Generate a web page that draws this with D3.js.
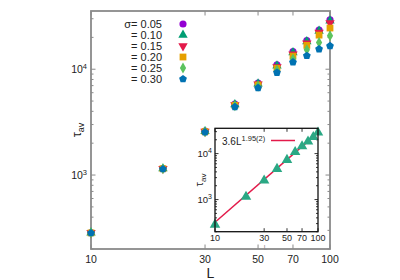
<!DOCTYPE html>
<html><head><meta charset="utf-8">
<script src="https://cdn.jsdelivr.net/npm/d3@7"></script>
<style>body{margin:0;background:#fff}svg{display:block;font-family:"Liberation Sans",Arial,sans-serif}</style>
</head><body><svg id="c" width="400" height="280"></svg>
<script>
// ---- data ----
const L = [10,20,30,40,50,60,70,80,90,100];
const sigmaLabels = ["σ= 0.05","= 0.10","= 0.15","= 0.20","= 0.25","= 0.30"];
const tau005 = [285,1150,2600,4680,7400,11000,14700,18700,23500,29300];
const tau010 = [285,1150,2590,4640,7300,10800,14400,18300,23000,28700];
const tau015 = [285,1150,2580,4600,7200,10500,13900,17600,22200,27300];
const tau020 = [284,1148,2570,4560,7100,10200,13300,16800,21000,24500];
const tau025 = [284,1145,2560,4500,6900,9800,12500,15300,17900,20700];
const tau030 = [283,1140,2540,4400,6650,9300,11650,13400,15500,16600];
const xTickVals = [10,30,50,70,100];
const yMajorVals = [1000,10000];
const fitA = 3.6, fitB = 1.95;
const fitText = "3.6L", fitExp = "1.95(2)";

const series = [tau005,tau010,tau015,tau020,tau025,tau030];
const colors = ["#9400d3","#009e73","#e31a4a","#e69f00","#5cc35e","#0072b2"];

const pentagon = {draw(ctx,size){const r=Math.sqrt(size/2.378);for(let i=0;i<5;i++){const a=-Math.PI/2+i*2*Math.PI/5;const x=r*Math.cos(a),y=r*Math.sin(a);i?ctx.lineTo(x,y):ctx.moveTo(x,y);}ctx.closePath();}};
const triDown = {draw(ctx,size){const s=Math.sqrt(size/(Math.sqrt(3)/4));const h=s*Math.sqrt(3)/2;ctx.moveTo(-s/2,-h/3);ctx.lineTo(s/2,-h/3);ctx.lineTo(0,2*h/3);ctx.closePath();}};
const triUp = {draw(ctx,size){const s=Math.sqrt(size/(Math.sqrt(3)/4));const h=s*Math.sqrt(3)/2;ctx.moveTo(-s/2,h/3);ctx.lineTo(s/2,h/3);ctx.lineTo(0,-2*h/3);ctx.closePath();}};
const shapes = [
  d3.symbol(d3.symbolCircle,40),
  d3.symbol(triUp,38),
  d3.symbol(triDown,38),
  d3.symbol(d3.symbolSquare,46),
  d3.symbol(d3.symbolDiamond,34),
  d3.symbol(pentagon,40)
];

const svg = d3.select("#c");
const yDom = [200,35500];

// ---- main plot ----
const M = {l:91,r:330,t:11,b:249};
const x = d3.scaleLog().domain([10,100]).range([M.l,M.r]);
const y = d3.scaleLog().domain(yDom).range([M.b,M.t]);
const gray = "#8a8a8a";

function minorTicks(sc){
  const out=[];const [a,b]=sc.domain();
  for(let e=2;e<=5;e++)for(let m=1;m<10;m++){const v=m*Math.pow(10,e);if(v>=a&&v<=b)out.push(v);}
  return out;
}
const yMin = minorTicks(y).filter(v=>!yMajorVals.includes(v));

const gm = svg.append("g");
gm.selectAll("line.ymn").data(yMin).join("line").attr("x1",M.l).attr("x2",M.l+2.5).attr("y1",d=>y(d)).attr("y2",d=>y(d)).attr("stroke",gray).attr("stroke-width",1);
gm.selectAll("line.ymnr").data(yMin).join("line").attr("x1",M.r).attr("x2",M.r-2.5).attr("y1",d=>y(d)).attr("y2",d=>y(d)).attr("stroke",gray).attr("stroke-width",1);
gm.selectAll("line.ymj").data(yMajorVals).join("line").attr("x1",M.l).attr("x2",M.l+4.5).attr("y1",d=>y(d)).attr("y2",d=>y(d)).attr("stroke",gray).attr("stroke-width",1);
gm.selectAll("line.ymjr").data(yMajorVals).join("line").attr("x1",M.r).attr("x2",M.r-4.5).attr("y1",d=>y(d)).attr("y2",d=>y(d)).attr("stroke",gray).attr("stroke-width",1);
gm.selectAll("line.xb").data(xTickVals).join("line").attr("x1",d=>x(d)).attr("x2",d=>x(d)).attr("y1",M.b).attr("y2",M.b-4.5).attr("stroke",gray).attr("stroke-width",1);
gm.selectAll("line.xt").data(xTickVals).join("line").attr("x1",d=>x(d)).attr("x2",d=>x(d)).attr("y1",M.t).attr("y2",M.t+4.5).attr("stroke",gray).attr("stroke-width",1);
gm.append("rect").attr("x",M.l).attr("y",M.t).attr("width",M.r-M.l).attr("height",M.b-M.t).attr("fill","none").attr("stroke",gray).attr("stroke-width",1.8);

gm.selectAll("text.xl").data(xTickVals).join("text").attr("x",d=>x(d)).attr("y",M.b+14).attr("text-anchor","middle").attr("font-size",10.5).attr("fill","#222").text(d=>d);
const yl = gm.selectAll("text.yl").data(yMajorVals).join("text").attr("x",M.l-4).attr("y",d=>y(d)+4).attr("text-anchor","end").attr("font-size",10.5).attr("fill","#222");
yl.append("tspan").text("10");
yl.append("tspan").attr("dy",-4).attr("font-size",7.5).text(d=>Math.round(Math.log10(d)));
gm.append("text").attr("x",(M.l+M.r)/2).attr("y",278).attr("text-anchor","middle").attr("font-size",14).attr("fill","#222").text("L");
const ylab = gm.append("text").attr("transform",`translate(81,${(M.t+M.b)/2}) rotate(-90)`).attr("text-anchor","middle").attr("font-size",13).attr("fill","#222");
ylab.append("tspan").text("τ");
ylab.append("tspan").attr("dy",3).attr("font-size",9).text("av");

const leg = gm.append("g");
sigmaLabels.forEach((s,i)=>{
  const yy = 24 + i*11;
  leg.append("text").attr("x",162).attr("y",yy+4).attr("text-anchor","end").attr("font-size",11).attr("fill","#222").text(s);
  leg.append("path").attr("d",shapes[i]()).attr("transform",`translate(183,${yy})`).attr("fill",colors[i]);
});

series.forEach((vals,i)=>{
  gm.append("g").selectAll("path").data(vals).join("path")
    .attr("d",shapes[i]()).attr("transform",(d,j)=>`translate(${x(L[j])},${y(d)})`).attr("fill",colors[i]);
});

// ---- inset ----
const I = {l:215,r:318,t:128.3,b:231.7};
const xi = d3.scaleLog().domain([10,100]).range([I.l,I.r]);
const yi = d3.scaleLog().domain(yDom).range([I.b,I.t]);
const gi = svg.append("g");
gi.append("rect").attr("x",I.l).attr("y",I.t).attr("width",I.r-I.l).attr("height",I.b-I.t).attr("fill","#fff");
gi.selectAll("line.a").data(yMin).join("line").attr("x1",I.l).attr("x2",I.l+2).attr("y1",d=>yi(d)).attr("y2",d=>yi(d)).attr("stroke","#000").attr("stroke-width",0.8);
gi.selectAll("line.b").data(yMin).join("line").attr("x1",I.r).attr("x2",I.r-2).attr("y1",d=>yi(d)).attr("y2",d=>yi(d)).attr("stroke","#000").attr("stroke-width",0.8);
gi.selectAll("line.c").data(yMajorVals).join("line").attr("x1",I.l).attr("x2",I.l+3.5).attr("y1",d=>yi(d)).attr("y2",d=>yi(d)).attr("stroke","#000").attr("stroke-width",0.8);
gi.selectAll("line.d").data(yMajorVals).join("line").attr("x1",I.r).attr("x2",I.r-3.5).attr("y1",d=>yi(d)).attr("y2",d=>yi(d)).attr("stroke","#000").attr("stroke-width",0.8);
gi.selectAll("line.e").data(xTickVals).join("line").attr("x1",d=>xi(d)).attr("x2",d=>xi(d)).attr("y1",I.b).attr("y2",I.b-3.5).attr("stroke","#000").attr("stroke-width",0.8);
gi.selectAll("line.f").data(xTickVals).join("line").attr("x1",d=>xi(d)).attr("x2",d=>xi(d)).attr("y1",I.t).attr("y2",I.t+3.5).attr("stroke","#000").attr("stroke-width",0.8);
gi.selectAll("text.xl").data(xTickVals).join("text").attr("x",d=>xi(d)).attr("y",I.b+9.5).attr("text-anchor","middle").attr("font-size",9).attr("fill","#222").text(d=>d);
const yli = gi.selectAll("text.yl").data(yMajorVals).join("text").attr("x",I.l-3).attr("y",d=>yi(d)+3.5).attr("text-anchor","end").attr("font-size",9.5).attr("fill","#222");
yli.append("tspan").text("10");
yli.append("tspan").attr("dy",-4).attr("font-size",7).text(d=>Math.round(Math.log10(d)));
gi.append("text").attr("x",(I.l+I.r)/2-1).attr("y",249.5).attr("text-anchor","middle").attr("font-size",6.5).attr("fill","#888").text("L");
const ylabi = gi.append("text").attr("transform",`translate(203,${(I.t+I.b)/2}) rotate(-90)`).attr("text-anchor","middle").attr("font-size",11).attr("fill","#222");
ylabi.append("tspan").text("τ");
ylabi.append("tspan").attr("dy",2.5).attr("font-size",8).text("av");
const line = d3.line().x(d=>xi(d)).y(d=>yi(fitA*Math.pow(d,fitB)));
gi.append("path").attr("d",line([L[0],L[L.length-1]])).attr("fill","none").attr("stroke","#e31a4a").attr("stroke-width",1.5);
gi.append("g").selectAll("path").data(tau010).join("path").attr("d",d3.symbol(triUp,48)()).attr("transform",(d,j)=>`translate(${xi(L[j])},${yi(d)})`).attr("fill","#2aa884");
const fl = gi.append("text").attr("x",222).attr("y",145).attr("font-size",10).attr("fill","#222");
fl.append("tspan").text(fitText);
fl.append("tspan").attr("dy",-4.5).attr("font-size",7.5).text(fitExp);
gi.append("line").attr("x1",271).attr("x2",295).attr("y1",140.5).attr("y2",140.5).attr("stroke","#e31a4a").attr("stroke-width",1.5);
gi.append("rect").attr("x",I.l).attr("y",I.t).attr("width",I.r-I.l).attr("height",I.b-I.t).attr("fill","none").attr("stroke","#111").attr("stroke-width",1.3);
</script></body></html>
